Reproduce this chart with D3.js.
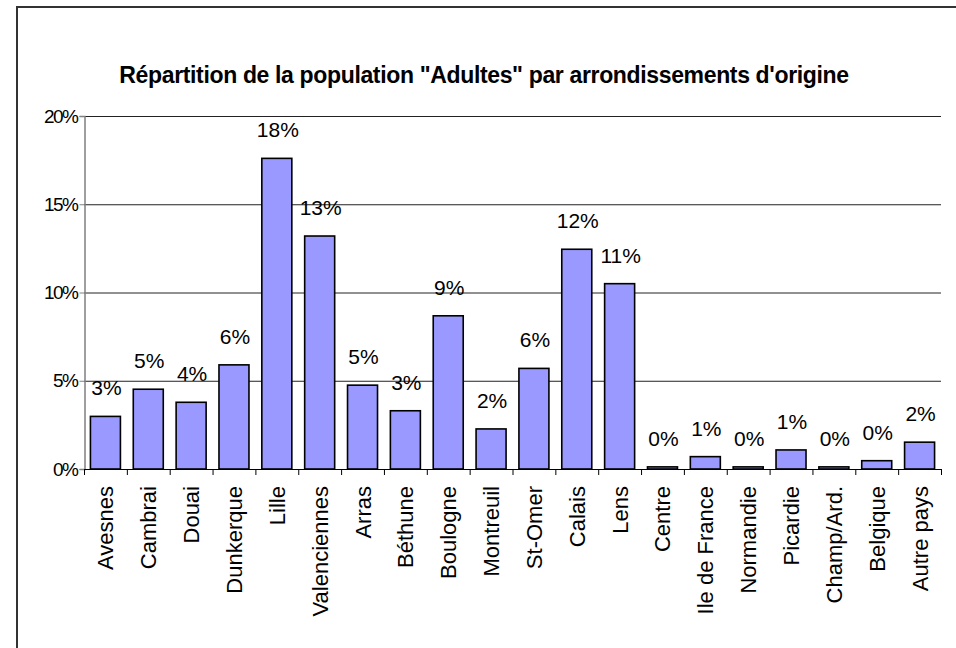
<html>
<head>
<meta charset='utf-8' />
<title>Adultes</title>
<script src="https://d3js.org/d3.v7.min.js"></script>
<style>
body { margin:0; background:#fff; }
text { font-family: Arial, "Liberation Sans", sans-serif; }
</style>
</head>
<body>
<script>

var categories = ["Avesnes","Cambrai","Douai","Dunkerque","Lille","Valenciennes","Arras","Béthune","Boulogne","Montreuil","St-Omer","Calais","Lens","Centre","Ile de France","Normandie","Picardie","Champ/Ard.","Belgique","Autre pays"];
var values = [2.98, 4.52, 3.78, 5.9, 17.6, 13.2, 4.75, 3.3, 8.68, 2.27, 5.7, 12.45, 10.5, 0.12, 0.7, 0.12, 1.08, 0.12, 0.47, 1.52];
var yTicks = [0, 5, 10, 15, 20];
var title = 'Répartition de la population "Adultes" par arrondissements d\'origine';

var W = 956, H = 648;
var margin = {top: 116, left: 84, right: 15, bottom: 179};

var svg = d3.select("body").append("svg").attr("width", W).attr("height", H);

// frame
svg.append("rect").attr("x",17).attr("y",7).attr("width",W).attr("height",H)
  .attr("fill","none").attr("stroke","#333").attr("stroke-width",2);

svg.append("text").attr("x",484).attr("y",83).attr("text-anchor","middle")
  .attr("font-size","23px").attr("font-weight","bold").attr("letter-spacing","-0.35px")
  .text(title);

var x = d3.scaleBand().domain(categories).range([margin.left, W - margin.right]).paddingInner(0.3).paddingOuter(0.15);
var y = d3.scaleLinear().domain([0,20]).range([H - margin.bottom, margin.top]);

// gridlines
svg.append("g").selectAll("line").data(yTicks.slice(1)).enter().append("line")
  .attr("x1", margin.left).attr("x2", W - margin.right)
  .attr("y1", d=>y(d)+0.5).attr("y2", d=>y(d)+0.5)
  .attr("stroke","#222").attr("stroke-width",1);

// y axis
var yAxis = svg.append("g").attr("transform","translate(" + (margin.left+0.5) + ",0)")
  .call(d3.axisLeft(y).tickValues(yTicks).tickSize(5).tickPadding(2).tickFormat(d=>d+"%"));
yAxis.select(".domain").attr("stroke","#808080").attr("stroke-width",1.5);
yAxis.selectAll(".tick line").attr("stroke","#808080");
yAxis.selectAll("text").attr("font-size","19px").attr("letter-spacing","-1.5px").attr("fill","#000")
  .attr("font-family","Arial, 'Liberation Sans', sans-serif");

// bars
svg.append("g").selectAll("rect").data(values).enter().append("rect")
  .attr("x",(d,i)=>x(categories[i]))
  .attr("y",d=>y(d))
  .attr("width",x.bandwidth())
  .attr("height",d=>y(0)-y(d))
  .attr("fill","#9999ff").attr("stroke","#000").attr("stroke-width",1.6);

// value labels
svg.append("g").selectAll("text").data(values).enter().append("text")
  .attr("x",(d,i)=>x(categories[i]) + x.bandwidth()/2 + 1)
  .attr("y",d=>y(d) - 21)
  .attr("text-anchor","middle").attr("font-size","21px")
  .text(d=>Math.round(d)+"%");

// x axis baseline + ticks at band boundaries
var bounds = d3.range(categories.length+1).map(i=>margin.left + i*(W - margin.right - margin.left)/categories.length);
svg.append("line").attr("x1",margin.left).attr("x2",W-margin.right)
  .attr("y1",y(0)+0.5).attr("y2",y(0)+0.5).attr("stroke","#000").attr("stroke-width",1.2);
svg.append("g").selectAll("line").data(bounds).enter().append("line")
  .attr("x1",d=>d+0.5).attr("x2",d=>d+0.5).attr("y1",y(0)).attr("y2",y(0)+6)
  .attr("stroke","#000");

// category labels
svg.append("g").selectAll("text").data(categories).enter().append("text")
  .attr("transform",d=>"translate(" + (x(d)+x.bandwidth()/2+8) + "," + (y(0)+17) + ") rotate(-90)")
  .attr("text-anchor","end").attr("font-size","22px")
  .text(d=>d);

</script>
</body>
</html>
